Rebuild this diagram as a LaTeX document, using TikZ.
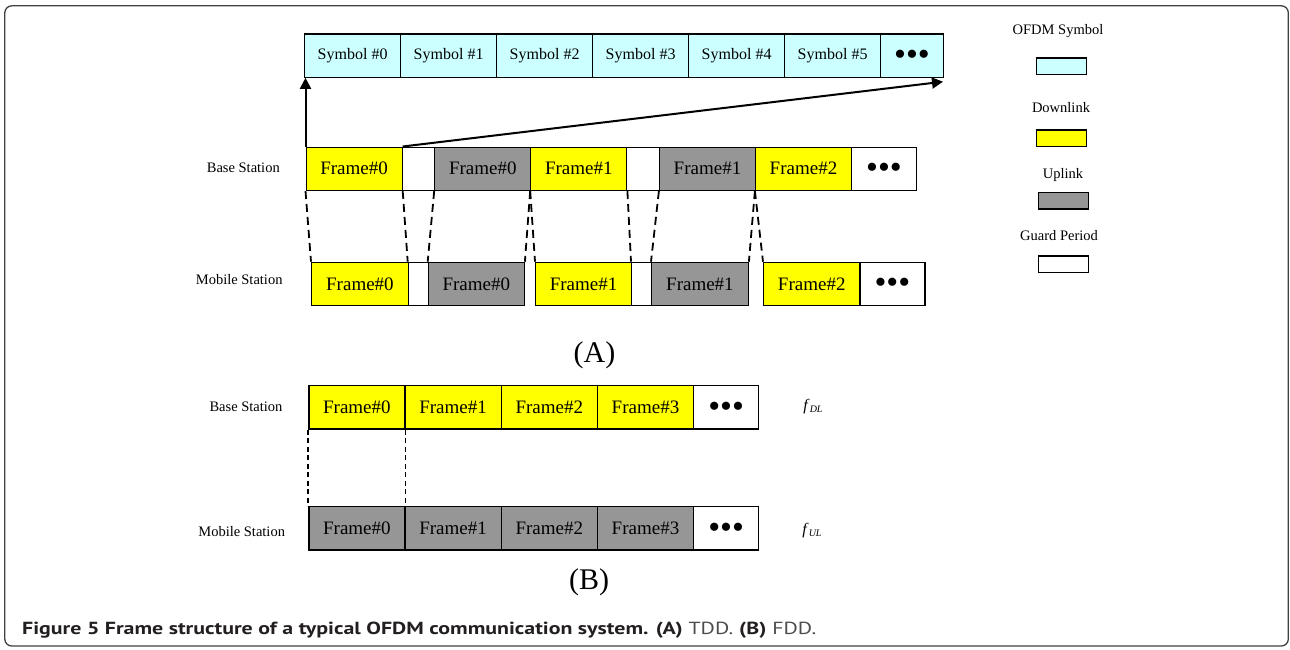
\documentclass[tikz,border=0pt]{standalone}
\usepackage{fontspec}
\setmainfont{Liberation Serif}
\newfontfamily\capfont[FakeStretch=1.25]{PT Sans}
\usetikzlibrary{arrows.meta}
\definecolor{symcol}{HTML}{CCFFFF}
\definecolor{dlcol}{HTML}{FFFF00}
\definecolor{ulcol}{HTML}{969696}
\definecolor{capcol}{HTML}{231F20}
\definecolor{bordercol}{HTML}{404040}
\newcommand\tripledots{{\fontsize{34}{34}\selectfont\rule{0pt}{20pt}\textbullet\textbullet\textbullet}}
\begin{document}
\begin{tikzpicture}[x=1pt,y=-1pt,
  cell/.style={draw=black, line width=1.2pt, rectangle, inner sep=0pt, anchor=north west, minimum height=43.3pt},
  symcell/.style={cell, fill=symcol, minimum width=96pt, font=\fontsize{16}{16}\selectfont},
  dlcell/.style={cell, fill=dlcol, minimum width=96pt, font=\fontsize{19}{19}\selectfont},
  ulcell/.style={cell, fill=ulcol, minimum width=96pt, font=\fontsize{19}{19}\selectfont},
  gpcell/.style={cell, fill=white},
  dotcell/.style={cell, minimum width=65pt},
  lab/.style={inner sep=0pt, font=\fontsize{14.5}{14.5}\selectfont, text height=9.6pt, text depth=0pt},
  legbox/.style={draw=black, line width=1.2pt, rectangle, inner sep=0pt, anchor=north west, minimum width=50pt, minimum height=16.7pt},
  arr/.style={line width=2pt, -{Triangle[length=11pt,width=11pt]}},
  tdddash/.style={line width=1.8pt, dash pattern=on 8pt off 5pt},
  fdddash/.style={line width=1.8pt, dash pattern=on 5pt off 3.5pt}
]
\useasboundingbox (0,0) rectangle (1290,649);
\draw[bordercol, line width=1.3pt, rounded corners=7pt] (4.8,5.8) rectangle (1288.3,646);

% OFDM symbol row
\node[symcell] (s0) at (304,33.3) {Symbol \#0};
\node[symcell] (s1) at (400,33.3) {Symbol \#1};
\node[symcell] (s2) at (496,33.3) {Symbol \#2};
\node[symcell] (s3) at (592,33.3) {Symbol \#3};
\node[symcell] (s4) at (688,33.3) {Symbol \#4};
\node[symcell] (s5) at (784,33.3) {Symbol \#5};
\node[dotcell, fill=symcol, minimum width=62.7pt] (sd) at (880,33.3) {\tripledots};

% TDD base station
\node[dlcell] (bd0) at (305.5,146.5) {Frame\#0};
\node[gpcell, minimum width=32.7pt] (bg0) at (401.5,146.5) {};
\node[ulcell] (bu0) at (434.2,146.5) {Frame\#0};
\node[dlcell] (bd1) at (530.2,146.5) {Frame\#1};
\node[gpcell, minimum width=32.7pt] (bg1) at (626.2,146.5) {};
\node[ulcell] (bu1) at (658.9,146.5) {Frame\#1};
\node[dlcell] (bd2) at (754.9,146.5) {Frame\#2};
\node[dotcell] (bdd) at (850.9,146.5) {\tripledots};

% TDD mobile station
\node[dlcell, minimum width=96.7pt] (md0) at (311,261.7) {Frame\#0};
\node[gpcell, minimum width=20pt] (mg0) at (407.7,261.7) {};
\node[ulcell] (mu0) at (427.7,261.7) {Frame\#0};
\node[dlcell] (md1) at (535,261.7) {Frame\#1};
\node[gpcell, minimum width=20pt] (mg1) at (631,261.7) {};
\node[ulcell, minimum width=96.7pt] (mu1) at (651,261.7) {Frame\#1};
\node[dlcell, minimum width=96.3pt] (md2) at (763,261.7) {Frame\#2};
\node[dotcell] (mdd) at (859.3,261.7) {\tripledots};

% arrows to symbol row
\coordinate (tipR) at (943,81.7);
\draw[arr] (bd0.north west) -- (bd0.north west |- s0.south);
\draw[arr] (bd0.north east) -- (tipR);

% TDD dashed connectors
\draw[tdddash] (bd0.south west) -- (md0.north west);
\draw[tdddash] (bd0.south east) -- (mg0.north west);
\draw[tdddash] (bu0.south west) -- (mu0.north west);
\draw[tdddash] (bd1.south west) -- (mu0.north east);
\draw[tdddash] (bd1.south west) -- (md1.north west);
\draw[tdddash] (bd1.south east) -- (mg1.north west);
\draw[tdddash] (bu1.south west) -- (mu1.north west);
\draw[tdddash] (bd2.south west) -- (mu1.north east);
\draw[tdddash] (bd2.south west) -- (md2.north west);

% TDD labels
\node[lab] (lbs1) at (243.3,167.3) {Base Station};
\node[lab] (lms1) at (239.2,280) {Mobile Station};
\node[font=\fontsize{30}{30}\selectfont, inner sep=0pt] (la) at (594.5,355.5) {(A)};

% FDD base station
\node[dlcell] (fd0) at (308.3,385) {Frame\#0};
\node[dlcell] (fd1) at (404.5,385) {Frame\#1};
\node[dlcell] (fd2) at (500.7,385) {Frame\#2};
\node[dlcell] (fd3) at (596.9,385) {Frame\#3};
\node[dotcell, minimum width=64.9pt] (fdd) at (693.1,385) {\tripledots};

% FDD mobile station
\node[ulcell] (fu0) at (308.3,506) {Frame\#0};
\node[ulcell] (fu1) at (404.5,506) {Frame\#1};
\node[ulcell] (fu2) at (500.7,506) {Frame\#2};
\node[ulcell] (fu3) at (596.9,506) {Frame\#3};
\node[dotcell, minimum width=64.9pt] (fud) at (693.1,506) {\tripledots};

\draw[fdddash] (fd0.south west) -- (fu0.north west);
\draw[fdddash] (fd0.south east) -- (fu0.north east);

\node[lab] (lbs2) at (246,406.7) {Base Station};
\node[lab] (lms2) at (241.7,531.7) {Mobile Station};
\node[inner sep=0pt] (fdl) at (813,407) {\fontsize{16}{16}\selectfont\textit{f}\raisebox{-2pt}{\fontsize{10}{10}\selectfont\textit{DL}}};
\node[inner sep=0pt] (ful) at (812,531) {\fontsize{16}{16}\selectfont\textit{f}\raisebox{-2pt}{\fontsize{10}{10}\selectfont\textit{UL}}};
\node[font=\fontsize{30}{30}\selectfont, inner sep=0pt] (lb) at (589,582) {(B)};

% legend
\node[lab] (t1) at (1058,30) {OFDM Symbol};
\node[legbox, fill=symcol] (k1) at (1036,57.3) {};
\node[lab] (t2) at (1061,107.3) {Downlink};
\node[legbox, fill=dlcol] (k2) at (1036,129.3) {};
\node[lab] (t3) at (1063,173.3) {Uplink};
\node[legbox, fill=ulcol] (k3) at (1037.7,191.7) {};
\node[lab] (t4) at (1059,235.3) {Guard Period};
\node[legbox, fill=white] (k4) at (1037.7,255.3) {};

% caption
\node[anchor=base west, inner sep=0pt, text=capcol, font=\capfont\fontsize{17.5}{17.5}\selectfont] (cap) at (22,634)
  {\textbf{Figure 5 Frame structure of a typical OFDM communication system. (A)} {\color{black!70}TDD.} \textbf{(B)} {\color{black!70}FDD.}};
\end{tikzpicture}
\end{document}
